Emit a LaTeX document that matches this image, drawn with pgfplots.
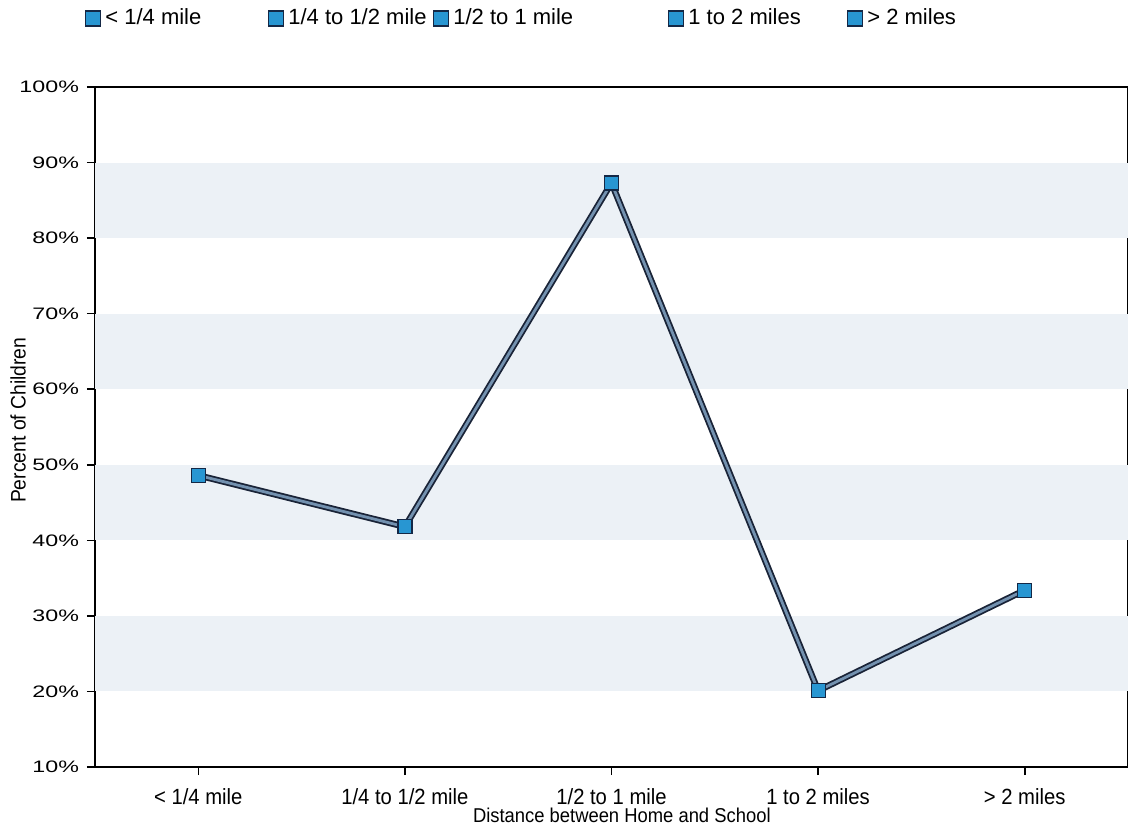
\documentclass[border=0pt]{standalone}
\usepackage{fontspec}
\setmainfont{Liberation Sans}
\newfontfamily\widefont{Liberation Sans}[FakeStretch=1.4]
\newfontfamily\narrowfont{Liberation Sans}[FakeStretch=0.92]
\usepackage{pgfplots}
\pgfplotsset{compat=1.18}
\definecolor{band}{RGB}{236,241,246}
\definecolor{mk}{RGB}{40,150,210}
\definecolor{mkd}{RGB}{20,40,70}
\definecolor{lnout}{RGB}{25,35,55}
\definecolor{lnin}{RGB}{115,145,175}
\begin{document}
\begin{tikzpicture}
\useasboundingbox (0,0) rectangle (564pt,417.5pt);
\begin{axis}[
  at={(47.5pt,34pt)}, anchor=south west,
  scale only axis, width=516.5pt, height=340pt,
  xmin=-0.5, xmax=4.5, ymin=10, ymax=100,
  xtick={0,1,2,3,4},
  xticklabels={< 1/4 mile, 1/4 to 1/2 mile, 1/2 to 1 mile, 1 to 2 miles, > 2 miles},
  ytick={10,20,...,100},
  yticklabel={\pgfmathprintnumber{\tick}\%},
  /pgf/number format/assume math mode=true,
  tick pos=left, tick align=outside,
  major tick length=4pt,
  every tick/.style={black, line width=0.8pt},
  axis line style={line width=1pt},
  yticklabel style={font=\widefont\fontsize{8.3}{9}\selectfont, xshift=-0.5pt},
  xticklabel style={font=\narrowfont\fontsize{11}{12}\selectfont, yshift=-3pt},
  xlabel={Distance between Home and School},
  ylabel={Percent of Children},
  xlabel style={font=\narrowfont\fontsize{10}{11}\selectfont, at={(axis description cs:0.51,-0.0706)}, anchor=center},
  ylabel style={font=\narrowfont\fontsize{10.5}{11}\selectfont, at={(axis description cs:-0.0745,0.51)}, anchor=center},
  legend columns=5,
  legend style={draw=none, fill=none, at={(axis description cs:-0.0097,1.101)}, anchor=west,
    inner sep=0pt, font=\fontsize{11}{13}\selectfont,
    nodes={inner sep=0pt},
    /tikz/every odd column/.append style={column sep=2.5pt}},
  legend image code/.code={\draw[#1] plot coordinates {(3.75pt,0pt)};},
  clip=false,
]
% background bands
\addplot[fill=band, draw=none, forget plot] coordinates {(-0.5,20) (4.5,20) (4.5,30) (-0.5,30)} -- cycle;
\addplot[fill=band, draw=none, forget plot] coordinates {(-0.5,40) (4.5,40) (4.5,50) (-0.5,50)} -- cycle;
\addplot[fill=band, draw=none, forget plot] coordinates {(-0.5,60) (4.5,60) (4.5,70) (-0.5,70)} -- cycle;
\addplot[fill=band, draw=none, forget plot] coordinates {(-0.5,80) (4.5,80) (4.5,90) (-0.5,90)} -- cycle;
% line
\addplot[lnout, line width=3.2pt, no marks, forget plot] coordinates {(0,48.6) (1,41.8) (2,87.3) (3,20.1) (4,33.4)};
\addplot[lnin, line width=1.4pt, mark=square*, mark size=3.5pt, mark options={fill=mk, draw=mkd, line width=0.6pt}, forget plot] coordinates {(0,48.6) (1,41.8) (2,87.3) (3,20.1) (4,33.4)};
% legend
\addlegendimage{only marks, mark=square*, mark size=3.75pt, mark options={fill=mk, draw=mkd, line width=0.7pt}}
\addlegendentry{\makebox[81.5pt][l]{< 1/4 mile}}
\addlegendimage{only marks, mark=square*, mark size=3.75pt, mark options={fill=mk, draw=mkd, line width=0.7pt}}
\addlegendentry{\makebox[72.5pt][l]{1/4 to 1/2 mile}}
\addlegendimage{only marks, mark=square*, mark size=3.75pt, mark options={fill=mk, draw=mkd, line width=0.7pt}}
\addlegendentry{\makebox[107.5pt][l]{1/2 to 1 mile}}
\addlegendimage{only marks, mark=square*, mark size=3.75pt, mark options={fill=mk, draw=mkd, line width=0.7pt}}
\addlegendentry{\makebox[79.5pt][l]{1 to 2 miles}}
\addlegendimage{only marks, mark=square*, mark size=3.75pt, mark options={fill=mk, draw=mkd, line width=0.7pt}}
\addlegendentry{> 2 miles}
\end{axis}
\end{tikzpicture}
\end{document}
